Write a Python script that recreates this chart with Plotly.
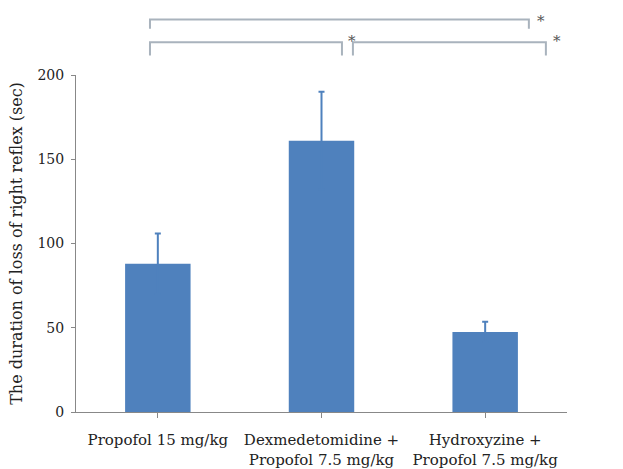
import plotly.graph_objects as go

categories = ["Propofol 15 mg/kg", "Dexmedetomidine +<br>Propofol 7.5 mg/kg", "Hydroxyzine +<br>Propofol 7.5 mg/kg"]
means = [88, 161, 47.5]
errors = [18, 29, 6]
y_ticks = [0, 50, 100, 150, 200]
y_title = "The duration of loss of right reflex (sec)"

# significance brackets: (x_start, x_end, y_level, y_drop, star_x, star_y) in data units
brackets = [
    (-0.048, 2.267, 233, 5.5, 2.34, 232),
    (-0.048, 1.125, 219.5, 8, 1.185, 220),
    (1.192, 2.371, 219.5, 8, 2.44, 220),
]

YMAX = 200
FONT = "DejaVu Serif"
fig = go.Figure()
fig.add_trace(go.Bar(
    x=[0, 1, 2], y=means, width=0.4,
    marker=dict(color="#4f81bd", line=dict(width=0)),
    error_y=dict(type="data", array=errors, symmetric=True,
                 color="#4f81bd", thickness=2, width=3),
))

for x0, x1, yl, drop, sx, sy in brackets:
    ptop = yl / YMAX
    pbot = (yl - drop) / YMAX
    fig.add_shape(type="path", xref="x", yref="paper",
                  path=f"M {x0},{pbot} L {x0},{ptop} L {x1},{ptop} L {x1},{pbot}",
                  line=dict(color="#a9b3bd", width=2))
    fig.add_annotation(x=sx, y=sy / YMAX, xref="x", yref="paper", text="*",
                       xanchor="center", yanchor="middle",
                       showarrow=False, font=dict(family=FONT, size=15, color="#555"))

fig.update_layout(
    width=623, height=469,
    margin=dict(l=76, r=56, t=75, b=57, autoexpand=False),
    paper_bgcolor="white", plot_bgcolor="white",
    showlegend=False,
    font=dict(family=FONT, size=14, color="#222"),
)
fig.update_xaxes(
    range=[-0.5, 2.5], tickvals=[0, 1, 2], ticktext=categories,
    showline=True, linecolor="#888", linewidth=1,
    ticks="outside", ticklen=5, tickcolor="#888", tickson="boundaries",
    showgrid=False, zeroline=False, tickfont=dict(size=15),
    automargin=False, ticklabelstandoff=9,
)
fig.update_yaxes(
    range=[0, YMAX], tickvals=y_ticks,
    showline=True, linecolor="#888", linewidth=1,
    ticks="outside", ticklen=4, tickcolor="#888",
    showgrid=False, zeroline=False,
    title=dict(text=y_title, font=dict(size=16), standoff=10),
    tickfont=dict(size=14), ticklabelstandoff=4,
    automargin=False,
)

fig.write_html("out.html", config={"displayModeBar": False},
               post_script="document.body.style.margin='0px';document.body.style.overflow='hidden';")
